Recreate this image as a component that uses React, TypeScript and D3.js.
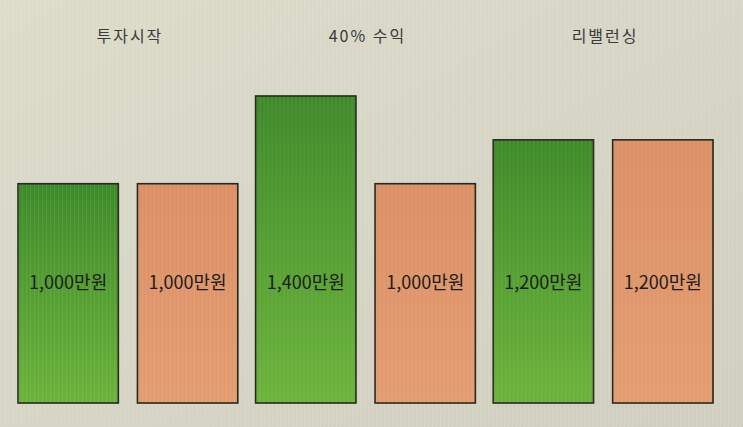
import React from "react";
import * as d3 from "d3";

const groups = ["투자시작", "40% 수익", "리밸런싱"];
const seriesKeys = ["stock", "bond"];
const stockValues = [1000, 1400, 1200];
const bondValues = [1000, 1000, 1200];
const unit = "만원";

const W = 743;
const H = 427;

export default function App() {
  const x0 = d3.scaleBand<string>().domain(groups).range([18, 713]).paddingInner(0.075).paddingOuter(0);
  const x1 = d3.scaleBand<string>().domain(seriesKeys).range([0, x0.bandwidth()]).paddingInner(0.16);
  const y = d3.scaleLinear().domain([0, 1400]).range([403, 96]);
  const fmt = d3.format(",");

  const rows = groups.map((g, i) => ({ g, vals: [stockValues[i], bondValues[i]] }));

  return (
    <svg width={W} height={H} style={{ position: "absolute", left: 0, top: 0 }}>
      <defs>
        <linearGradient id="bg" x1="0" y1="0" x2="1" y2="1">
          <stop offset="0%" stopColor="#dcdccb" />
          <stop offset="50%" stopColor="#d7d5c5" />
          <stop offset="100%" stopColor="#d0cec0" />
        </linearGradient>
        <linearGradient id="green" x1="0" y1="0" x2="0" y2="1">
          <stop offset="0%" stopColor="#3e8a29" />
          <stop offset="100%" stopColor="#6cb33b" />
        </linearGradient>
        <linearGradient id="orange" x1="0" y1="0" x2="0" y2="1">
          <stop offset="0%" stopColor="#dc8f64" />
          <stop offset="100%" stopColor="#e29c70" />
        </linearGradient>
        <pattern id="tex" width="4" height="4" patternUnits="userSpaceOnUse">
          <rect x="0" y="0" width="1" height="4" fill="#ffffff" opacity="0.08" />
        </pattern>
      </defs>
      <rect x={0} y={0} width={W} height={H} fill="url(#bg)" />
      <rect x={0} y={0} width={W} height={H} fill="url(#tex)" />
      {rows.map((r) => (
        <g key={r.g} transform={`translate(${x0(r.g)},0)`}>
          <text
            x={x0.bandwidth() / 2 + 2}
            y={42}
            textAnchor="middle"
            fontFamily="'Noto Sans CJK KR', 'DejaVu Sans', sans-serif"
            fontSize={16}
            letterSpacing={2}
            fill="#3a3a3a"
          >
            {r.g}
          </text>
          {r.vals.map((v, j) => {
            const key = seriesKeys[j];
            const bx = x1(key)!;
            const top = y(v);
            const h = y(0) - top;
            return (
              <g key={key}>
                <rect
                  x={bx}
                  y={top}
                  width={x1.bandwidth()}
                  height={h}
                  fill={j === 0 ? "url(#green)" : "url(#orange)"}
                  stroke="#26261f"
                  strokeWidth={1.6}
                />
                <rect x={bx} y={top} width={x1.bandwidth()} height={h} fill="url(#tex)" />
                <text
                  x={bx + x1.bandwidth() / 2}
                  y={289}
                  textAnchor="middle"
                  fontFamily="'Noto Sans CJK KR', 'DejaVu Sans', sans-serif"
                  fontSize={18}
                  fill="#1c1c1c"
                >
                  {fmt(v) + unit}
                </text>
              </g>
            );
          })}
        </g>
      ))}
    </svg>
  );
}
